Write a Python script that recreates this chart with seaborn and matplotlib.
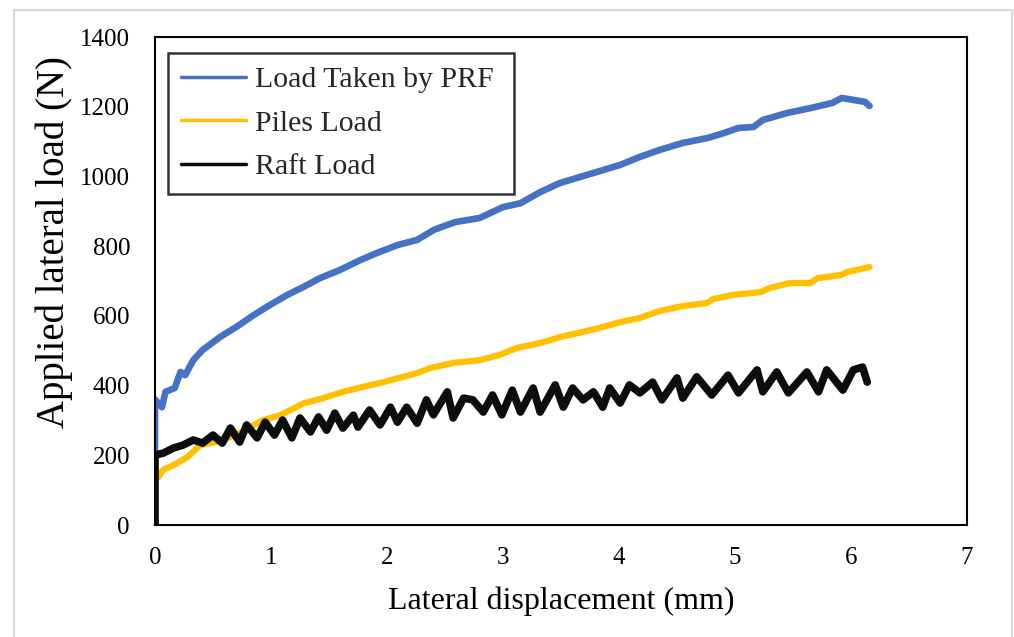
import numpy as np
import pandas as pd
import matplotlib
matplotlib.use("Agg")
import matplotlib.pyplot as plt
import seaborn as sns
from matplotlib.patches import Rectangle

# Данные
prf_x = [0, 0, 0.06, 0.09, 0.17, 0.22, 0.26, 0.33, 0.41, 0.56,
         0.70, 0.85, 0.99, 1.14, 1.28, 1.42, 1.59, 1.77, 1.91, 2.09,
         2.26, 2.40, 2.52, 2.59, 2.80, 3.00, 3.15, 3.32, 3.49, 3.66,
         3.86, 4.01, 4.18, 4.35, 4.55, 4.76, 4.90, 5.03, 5.16, 5.24,
         5.45, 5.65, 5.84, 5.92, 6.12, 6.16]
prf_y = [0, 360, 338, 382, 393, 439, 430, 473, 502, 539,
         568, 602, 631, 660, 683, 708, 731, 760, 780, 803,
         818, 846, 861, 869, 881, 912, 923, 955, 981, 998,
         1018, 1033, 1056, 1076, 1096, 1110, 1124, 1139, 1142, 1162,
         1182, 1196, 1211, 1225, 1214, 1202]

piles_x = [0, 0, 0.03, 0.07, 0.16, 0.28, 0.39, 0.53, 0.73, 0.93,
           1.08, 1.28, 1.45, 1.62, 1.79, 1.97, 2.26, 2.37, 2.57, 2.80,
           2.97, 3.12, 3.32, 3.49, 3.69, 3.86, 4.01, 4.18, 4.35, 4.55,
           4.76, 4.81, 4.98, 5.22, 5.30, 5.47, 5.65, 5.71, 5.91, 5.97,
           6.16]
piles_y = [0, 140, 138, 158, 172, 195, 229, 238, 263, 301,
           315, 349, 364, 382, 396, 410, 436, 450, 465, 473,
           488, 508, 522, 539, 554, 568, 582, 594, 614, 628,
           637, 648, 660, 668, 680, 694, 694, 708, 717, 726,
           740]

raft_x = [0, 0, 0.07, 0.16, 0.24, 0.33, 0.41, 0.50, 0.58, 0.65, 0.73, 0.79,
          0.88, 0.95, 1.03, 1.10, 1.18, 1.25, 1.34, 1.41, 1.48, 1.55,
          1.62, 1.71, 1.75, 1.85, 1.94, 2.03, 2.09, 2.17, 2.26, 2.34,
          2.40, 2.52, 2.57, 2.66, 2.74, 2.83, 2.91, 2.99, 3.08, 3.15,
          3.26, 3.32, 3.45, 3.52, 3.60, 3.69, 3.78, 3.86, 3.92, 4.01,
          4.09, 4.18, 4.29, 4.37, 4.50, 4.55, 4.67, 4.80, 4.94, 5.03,
          5.19, 5.24, 5.36, 5.46, 5.62, 5.72, 5.79, 5.93, 6.02, 6.10,
          6.14]
raft_y = [0, 201, 206, 221, 229, 244, 235, 258, 235, 278, 238, 287,
          250, 295, 258, 301, 250, 307, 267, 310, 272, 321,
          278, 315, 281, 330, 287, 338, 295, 338, 292, 359,
          316, 382, 307, 364, 359, 324, 373, 316, 387, 324,
          393, 324, 402, 338, 393, 359, 382, 338, 393, 350,
          402, 379, 410, 359, 422, 364, 425, 373, 430, 379,
          445, 382, 439, 379, 439, 382, 445, 387, 445, 453,
          410]

labels = ['Load Taken by PRF', 'Piles Load', 'Raft Load']
colors = ['#4472C4', '#FFC000', '#0D0D0D']

sns.set_theme(style='white')
plt.rcParams['font.family'] = ['Liberation Serif', 'DejaVu Serif']

fig = plt.figure(figsize=(10.14, 6.37), dpi=100)
ax = fig.add_axes([155 / 1014, 112 / 637, 812 / 1014, 488 / 637])

# светло-серая рамка вокруг рисунка
fig.patches.append(Rectangle((14 / 1014, -0.01), 998 / 1014, 1 - 10 / 637 + 0.01,
                             transform=fig.transFigure, fill=False,
                             edgecolor='#D9D9D9', linewidth=1.5))

series = [(prf_x, prf_y), (piles_x, piles_y), (raft_x, raft_y)]
widths = [4.8, 4.5, 5.5]
for (xs, ys), lab, col, lw in zip(series, labels, colors, widths):
    df = pd.DataFrame({'x': xs, 'y': ys})
    sns.lineplot(data=df, x='x', y='y', sort=False, estimator=None, ax=ax,
                 color=col, linewidth=lw, label=lab, solid_capstyle='round',
                 solid_joinstyle='round')

ax.set_xlim(0, 7)
ax.set_ylim(0, 1400)
ax.set_xticks(range(0, 8))
ax.set_yticks(range(0, 1401, 200))
ax.tick_params(axis='both', length=0, labelsize=18, colors='black')
ax.tick_params(axis='y', pad=18)
ax.tick_params(axis='x', pad=16)

for s in ax.spines.values():
    s.set_color('black')
    s.set_linewidth(1.5)

ax.set_xlabel('Lateral displacement (mm)', fontsize=23, color='black')
ax.set_ylabel('Applied lateral load (N)', fontsize=28, color='black')
ax.xaxis.set_label_coords(0.5, -0.125)
ax.yaxis.set_label_coords(-0.101, 0.58)

handles, _ = ax.get_legend_handles_labels()
leg_labels = [labels[0] + ' ', labels[1], labels[2]]
leg = ax.legend(handles, leg_labels, loc='upper left', bbox_to_anchor=(0.016, 0.967),
                borderaxespad=0, fontsize=21.5, frameon=True, fancybox=False,
                handlelength=2.15, handletextpad=0.3, labelspacing=0.55,
                borderpad=0.45)
leg.get_frame().set_edgecolor('black')
leg.get_frame().set_linewidth(1.8)
for line in leg.get_lines():
    line.set_linewidth(2.5)

fig.savefig('out.png', dpi=100)
